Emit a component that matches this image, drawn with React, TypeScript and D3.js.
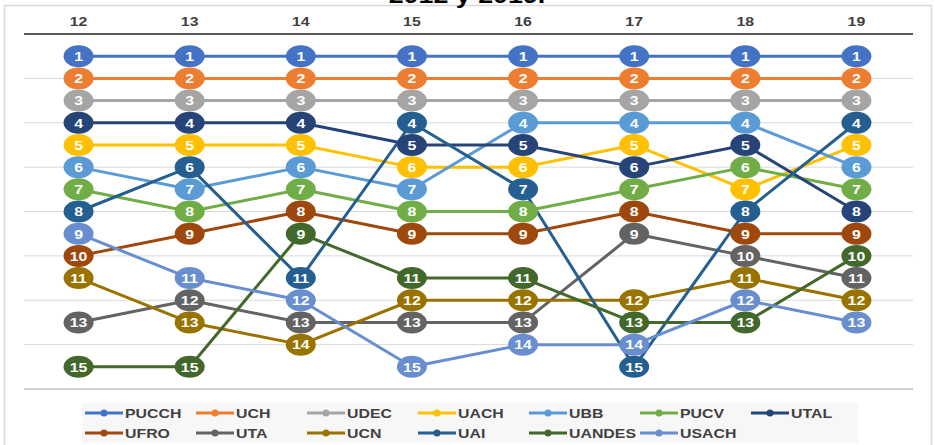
import React from "react";
import * as d3 from "d3";

const years = ["12", "13", "14", "15", "16", "17", "18", "19"];
const seriesNames = ["PUCCH", "UCH", "UDEC", "UACH", "UBB", "PUCV", "UTAL", "UFRO", "UTA", "UCN", "UAI", "UANDES", "USACH"];
const seriesColors = ["#4472C4", "#ED7D31", "#A5A5A5", "#FFC000", "#5B9BD5", "#70AD47", "#264478", "#9E480E", "#636363", "#997300", "#255E91", "#43682B", "#698ED0"];

const PUCCH = [1, 1, 1, 1, 1, 1, 1, 1];
const UCH = [2, 2, 2, 2, 2, 2, 2, 2];
const UDEC = [3, 3, 3, 3, 3, 3, 3, 3];
const UACH = [5, 5, 5, 6, 6, 5, 7, 5];
const UBB = [6, 7, 6, 7, 4, 4, 4, 6];
const PUCV = [7, 8, 7, 8, 8, 7, 6, 7];
const UTAL = [4, 4, 4, 5, 5, 6, 5, 8];
const UFRO = [10, 9, 8, 9, 9, 8, 9, 9];
const UTA = [13, 12, 13, 13, 13, 9, 10, 11];
const UCN = [11, 13, 14, 12, 12, 12, 11, 12];
const UAI = [8, 6, 11, 4, 7, 15, 8, 4];
const UANDES = [15, 15, 9, 11, 11, 13, 13, 10];
const USACH = [9, 11, 12, 15, 14, 14, 12, 13];

const seriesValues = [PUCCH, UCH, UDEC, UACH, UBB, PUCV, UTAL, UFRO, UTA, UCN, UAI, UANDES, USACH];
const gridRanks = [2, 4, 6, 8, 10, 12, 14];
const title = "2012 y 2019.";

const SX = 1.22;

function WideText(props: { x: number; y: number; anchor?: string; size: number; fill: string; children: React.ReactNode }) {
  return (
    <text
      transform={`translate(${props.x},${props.y}) scale(${SX},1)`}
      dy="0.35em"
      textAnchor={props.anchor || "middle"}
      fontSize={props.size}
      fontWeight="bold"
      fill={props.fill}
    >
      {props.children}
    </text>
  );
}

export default function App() {
  const W = 935, H = 445;
  const plotL = 24, plotR = 913;
  const x = d3.scalePoint<string>().domain(years).range([plotL - 1, plotR - 1]).padding(0.5);
  const y = d3.scaleLinear().domain([0, 16]).range([34, 389]);
  const line = d3.line<number>().x((_, i) => x(years[i]) as number).y((v) => y(v));
  const font = "'Liberation Sans', Arial, sans-serif";

  const legendCols = 7;
  const legendX0 = 85, legendDX = 111, legendY0 = 413, legendDY = 20;

  return (
    <svg width={W} height={H} style={{ position: "absolute", left: 0, top: 0, background: "#fff" }} fontFamily={font}>
      <rect x={4.5} y={5.5} width={927} height={H + 10} fill="#fff" stroke="#d9d9d9" strokeWidth={1.5} />
      <text transform={`translate(467,3) scale(${SX},1)`} textAnchor="middle" fontSize={22} fontWeight="bold" fill="#000">{title}</text>
      {gridRanks.map((r) => (
        <line key={r} x1={plotL} x2={plotR} y1={y(r)} y2={y(r)} stroke="#d9d9d9" strokeWidth={1} />
      ))}
      <line x1={plotL} x2={plotR} y1={y(16)} y2={y(16)} stroke="#bfbfbf" strokeWidth={1.5} />
      <line x1={plotL} x2={plotR} y1={y(0)} y2={y(0)} stroke="#595959" strokeWidth={2} />
      {years.map((yr) => (
        <WideText key={yr} x={x(yr) as number} y={21} size={13} fill="#404040">{yr}</WideText>
      ))}
      {seriesValues.map((vals, si) => (
        <path key={seriesNames[si]} d={line(vals) || ""} fill="none" stroke={seriesColors[si]} strokeWidth={3} strokeLinejoin="round" />
      ))}
      {seriesValues.map((vals, si) => (
        <g key={"m" + seriesNames[si]}>
          {vals.map((v, i) => (
            <g key={i}>
              <ellipse cx={x(years[i])} cy={y(v)} rx={15} ry={11} fill={seriesColors[si]} />
              <WideText x={x(years[i]) as number} y={y(v) + 0.3} size={13} fill="#fff">{v}</WideText>
            </g>
          ))}
        </g>
      ))}
      <rect x={82} y={403} width={776} height={40} fill="#f7f7f7" />
      {seriesNames.map((name, i) => {
        const col = i % legendCols, row = Math.floor(i / legendCols);
        const lx = legendX0 + col * legendDX, ly = legendY0 + row * legendDY;
        return (
          <g key={"l" + name}>
            <line x1={lx} x2={lx + 38} y1={ly} y2={ly} stroke={seriesColors[i]} strokeWidth={3} />
            <circle cx={lx + 19} cy={ly} r={3.5} fill={seriesColors[i]} />
            <WideText x={lx + 40} y={ly} anchor="start" size={13} fill="#404040">{name}</WideText>
          </g>
        );
      })}
    </svg>
  );
}
